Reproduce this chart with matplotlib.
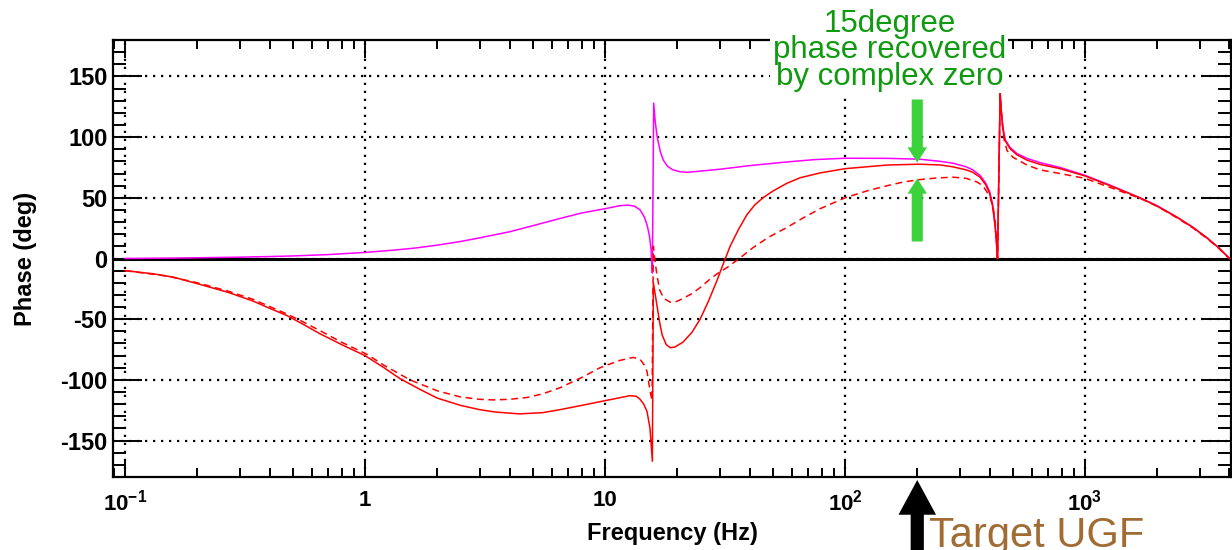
import matplotlib
matplotlib.use("Agg")
import matplotlib.pyplot as plt
from matplotlib.patches import FancyArrowPatch, Rectangle
from matplotlib.ticker import FixedLocator, FixedFormatter, LogLocator, NullFormatter, MultipleLocator
from matplotlib.transforms import blended_transform_factory

plt.rcParams['font.family'] = ['Liberation Sans', 'DejaVu Sans']
plt.rcParams['axes.unicode_minus'] = False
plt.rcParams['mathtext.fontset'] = 'custom'
plt.rcParams['mathtext.rm'] = 'Liberation Sans:bold'
plt.rcParams['mathtext.it'] = 'Liberation Sans:bold'
plt.rcParams['mathtext.bf'] = 'Liberation Sans:bold'

# Open-loop phase with the complex zero (magenta)
freq_zero = [0.1, 0.15, 0.2, 0.3, 0.4, 0.5, 0.7, 1.0, 1.3, 1.6, 2.0, 2.5, 3.0, 4.0, 5.0,
             6.5, 8.0, 10, 11.5, 12.5, 13.3, 14.0, 14.6, 15.0, 15.3, 15.55, 15.75, 15.95,
             16.2, 16.5, 17.0, 17.5, 18.2, 19.2, 20.5, 22, 25, 30, 40, 57, 75, 100, 150,
             205, 250, 282, 320, 341, 365, 385, 400, 412, 422, 428, 432, 443, 448, 455,
             465, 487, 520, 573, 650, 787, 1000, 1270, 1694, 2000, 2417, 2800, 3222,
             3600, 4000]
phase_zero = [0, 0.3, 0.6, 1.1, 1.6, 2.1, 3.2, 5.0, 6.8, 8.5, 11, 14, 17, 22, 27,
              33, 37.5, 41, 43.5, 44, 43, 40, 34, 27, 19, 8, -12, 128,
              112, 100, 88, 81, 76, 73, 71.5, 71, 72, 73.5, 76.5, 79.5, 81.5, 82.6, 82.5,
              81.8, 80, 78.5, 75.5, 73, 68.5, 62.5, 55.5, 45, 28, 12, 0, 136, 122, 108,
              98, 91.5, 86.5, 82.5, 79, 75, 68.5, 60.5, 50, 43.5, 34, 26, 17,
              9, 0]

# Total loop phase with compensation (red solid)
freq_comp = [0.1, 0.131, 0.16, 0.211, 0.27, 0.341, 0.4, 0.473, 0.55, 0.649, 0.8, 1.0,
             1.2, 1.4, 1.7, 2.0, 2.5, 3.0, 3.5, 4.4, 5.5, 6.5, 8.0, 9.5, 11, 12.7, 13.5,
             14.0, 14.5, 14.96, 15.4, 15.75, 15.9, 16.2, 16.5, 16.9, 17.3, 18.0, 18.7,
             19.5, 21.1, 23, 24.9, 27, 29.3, 31, 33.2, 36, 39, 42, 45.5, 50, 57.3, 65,
             78.7, 100, 150, 205, 250, 282, 320, 341, 365, 385, 400, 412, 422, 428, 432,
             443, 448, 455, 465, 487, 520, 573, 650, 787, 1000, 1270, 1694, 2000, 2417,
             2800, 3222, 3600, 4000]
phase_comp = [-10, -12.6, -15.5, -22, -28, -35, -41, -47, -54, -62, -71, -80,
              -90, -99, -108, -115, -121, -124.5, -126.5, -128, -127, -124.5, -121, -118, -115.5, -113, -113.5,
              -116, -120, -126, -140, -167, -20, -30, -40, -53, -63, -71, -73.5,
              -73, -69, -61, -50, -35, -18, -5, 10, 24, 36, 44, 50, 55.5, 62, 66.5,
              70.5, 74, 77, 77.7, 77, 75.5, 73, 71, 67, 61, 54, 43, 27, 12, 0,
              136, 121, 106, 97, 90.5, 85.5, 81, 77.5, 74, 68, 60, 50, 43, 34,
              26, 17, 9, 0]

# Total loop phase without the complex zero (red dashed)
freq_nozero = [0.1, 0.15, 0.2, 0.27, 0.34, 0.4, 0.47, 0.55, 0.65, 0.8, 1.02, 1.2, 1.54,
               2.0, 2.49, 3.0, 3.41, 4.0, 4.73, 5.5, 6.49, 8.0, 9.53, 11.5, 13.1, 14.0,
               14.6, 14.96, 15.4, 15.7, 15.9, 16.2, 16.5, 16.9, 17.6, 18.7, 19.8, 21.1,
               23, 24.9, 27, 29.3, 32.2, 36, 41.4, 48, 57.3, 67, 78.7, 100, 125, 150,
               175, 205, 240, 282, 320, 355, 375, 402, 415, 422, 428, 432, 443, 450,
               460, 473, 500, 573, 650, 787, 1000, 1270, 1694, 2000, 2417, 2800, 3222,
               3600, 4000]
phase_nozero = [-10, -14.5, -20, -27, -33.5, -39.5, -45.5, -52, -59.5, -69, -79, -88, -100,
                -109, -114, -116, -116.5, -116, -114.5, -111.5, -106.5, -98, -90, -84, -81.5, -83,
                -88, -93, -109, -117, 10, -4, -15, -26, -33, -36, -35.5, -33,
                -29, -24, -18, -12.6, -7.5, -0.5, 9, 17.5, 25.6, 33.5, 41, 50, 56, 60,
                63, 65, 66.3, 67, 66, 63, 60, 51, 41, 31, 15, 0, 134, 115,
                98, 89, 83.5, 77, 73, 70, 66, 58.6, 49.6, 43, 33.5, 25.5, 16.5,
                8.5, 0]

x_tick_values = [0.1, 1, 10, 100, 1000]
x_tick_labels = [r'$10^{-1}$', '1', '10', r'$10^{2}$', r'$10^{3}$']
y_tick_values = [-150, -100, -50, 0, 50, 100, 150]

ugf_freq = 200          # target unity gain frequency
recover_top = 79        # phase with complex zero at the UGF
recover_bottom = 66     # phase without it

W, H = 1232, 550
fig = plt.figure(figsize=(W / 100, H / 100), dpi=100)
ax = fig.add_axes([113 / W, 1 - 477 / H, (1231 - 113) / W, (477 - 40) / H])

ax.set_xscale('log')
ax.set_xlim(0.0891, 4058)
ax.set_ylim(-180, 180)

ax.plot(freq_zero, phase_zero, color='#ff00ff', lw=1.1, zorder=3)
ax.plot(freq_nozero, phase_nozero, color='#ff0000', lw=1.1,
        linestyle=(0, (4.5, 3)), zorder=4)
ax.plot(freq_comp, phase_comp, color='#ff0000', lw=1.1, zorder=5)
ax.axhline(0, color='black', lw=2.2, zorder=2)

ax.xaxis.set_major_locator(FixedLocator(x_tick_values))
ax.xaxis.set_major_formatter(FixedFormatter(x_tick_labels))
ax.xaxis.set_minor_locator(LogLocator(base=10, subs=range(2, 10), numticks=20))
ax.xaxis.set_minor_formatter(NullFormatter())
ax.yaxis.set_major_locator(FixedLocator(y_tick_values))
ax.yaxis.set_minor_locator(MultipleLocator(10))

ax.grid(which='major', color='black', linestyle=(0, (1, 2.6)), linewidth=1.6, zorder=1)
ax.set_axisbelow(True)

ax.tick_params(which='both', direction='in', top=True, right=True, width=1.4,
               colors='black')
ax.tick_params(axis='x', which='major', length=13, pad=9, labelsize=16)
ax.tick_params(axis='x', which='minor', length=6.5)
ax.tick_params(axis='y', which='major', length=21, pad=4, labelsize=17)
ax.tick_params(axis='y', which='minor', length=9.5)
for lab in ax.get_xticklabels() + ax.get_yticklabels():
    lab.set_fontweight('bold')
for sp in ax.spines.values():
    sp.set_linewidth(1.6)

ax.set_xlabel('Frequency (Hz)', fontsize=17, fontweight='bold')
ax.set_ylabel('Phase (deg)', fontsize=17, fontweight='bold')
ax.xaxis.set_label_coords(0.5, -0.103)
ax.yaxis.set_label_coords(-0.068, 0.5)

# White panel behind the annotation text
fig.add_artist(Rectangle((770 / W, 1 - 93 / H), (1008 - 770) / W, 93 / H,
                         transform=fig.transFigure, facecolor='white',
                         edgecolor='none', zorder=5))
green_text = '#109a10'
for line, base in [('15degree', 32), ('phase recovered', 58), ('by complex zero', 85)]:
    fig.text(890 / W, 1 - base / H, line, ha='center', va='baseline',
             fontsize=22.5, color=green_text, zorder=6)

# Green arrows marking the recovered phase
arrow_green = '#3cd23c'
green_style = 'simple,head_length=11,head_width=14,tail_width=8'
down = FancyArrowPatch(posA=(ugf_freq, 131), posB=(ugf_freq, recover_top),
                       arrowstyle=green_style, mutation_scale=1, shrinkA=0, shrinkB=0,
                       color=arrow_green, lw=0, zorder=7, clip_on=False)
up = FancyArrowPatch(posA=(ugf_freq, 14), posB=(ugf_freq, recover_bottom),
                     arrowstyle=green_style, mutation_scale=1, shrinkA=0, shrinkB=0,
                     color=arrow_green, lw=0, zorder=7, clip_on=False)
ax.add_patch(down)
ax.add_patch(up)

# Target UGF marker below the frequency axis
blend = blended_transform_factory(ax.transData, fig.transFigure)
ugf_arrow = FancyArrowPatch(posA=(ugf_freq, -0.02), posB=(ugf_freq, 1 - 480 / H),
                            transform=blend,
                            arrowstyle='simple,head_length=25,head_width=27,tail_width=9.5',
                            mutation_scale=1, shrinkA=0, shrinkB=0, color='black',
                            lw=0, zorder=7)
fig.add_artist(ugf_arrow)
fig.text(929 / W, 1 - 547 / H, 'Target UGF', ha='left', va='baseline',
         fontsize=30, color='#a06c34', zorder=7)

fig.savefig('out.png', dpi=100)
